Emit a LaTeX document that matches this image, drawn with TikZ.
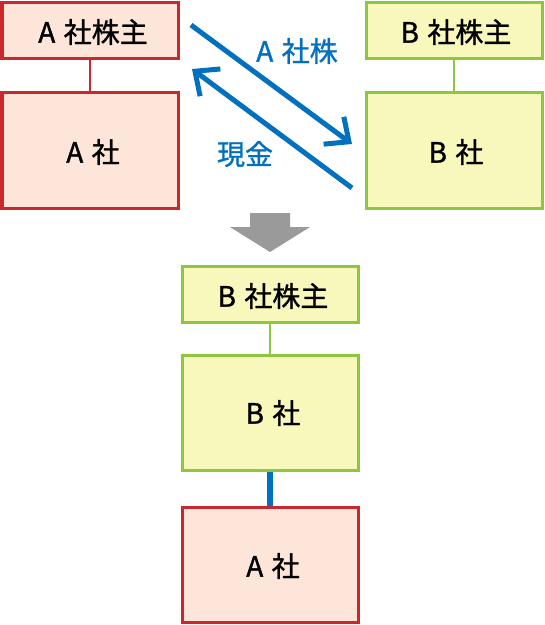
\documentclass[tikz,border=0pt]{standalone}
\usepackage{fontspec}
\setmainfont{Noto Sans CJK JP}[FakeBold=1.2]
\usetikzlibrary{arrows.meta}
\definecolor{redb}{HTML}{C8282E}
\definecolor{redf}{HTML}{FDE5DA}
\definecolor{grnb}{HTML}{8DC63F}
\definecolor{grnf}{HTML}{F8F8BC}
\definecolor{blu}{HTML}{0070BF}
\definecolor{gry}{HTML}{9A9A9A}
\newcommand{\gapsp}{\hspace{0.3em}}
\tikzset{
  abox/.style={draw=redb, fill=redf, line width=3pt},
  bbox/.style={draw=grnb, fill=grnf, line width=3pt},
  lbl/.style={font=\fontsize{28}{28}\selectfont, text=black},
  flow/.style={draw=blu, line width=5pt, -{Straight Barb[length=19pt,width=34pt]}},
  flowlbl/.style={font=\fontsize{28}{28}\selectfont, text=blu},
}
\begin{document}
\begin{tikzpicture}[x=1pt,y=-1pt]
\useasboundingbox (0,0) rectangle (545,625);
% top left
\draw[abox] (2,2) rectangle (178,58);
\node[lbl] (ash) at (93,32) {A\gapsp 社株主};
\draw[abox] (2,92) rectangle (178,208);
\node[lbl] (aco) at (93,152) {A\gapsp 社};
\draw[redb, line width=2pt] (90,59.5) -- (90,90.5);
% top right
\draw[bbox] (366,2) rectangle (542,58);
\node[lbl] (bsh) at (456,32) {B\gapsp 社株主};
\draw[bbox] (366,92) rectangle (542,208);
\node[lbl] (bco) at (456,152) {B\gapsp 社};
\draw[grnb, line width=2pt] (454,59.5) -- (454,90.5);
% arrows
\coordinate (s1) at (191,25);
\coordinate (e1) at (352,144);
\coordinate (s2) at (352,188);
\coordinate (e2) at (192,69);
\draw[flow] (s1) -- (e1);
\draw[flow] (s2) -- (e2);
\node[flowlbl] (lab1) at (297,51) {A\gapsp 社株};
\node[flowlbl] (lab2) at (245,154) {現金};
% gray arrow
\fill[gry] (250,213) -- (290,213) -- (290,227) -- (310,227) -- (270,252) -- (230,227) -- (250,227) -- cycle;
% bottom
\draw[bbox] (182,266) rectangle (358,322);
\node[lbl] (bsh2) at (273,296) {B\gapsp 社株主};
\draw[bbox] (182,355) rectangle (358,470);
\node[lbl] (bco2) at (273,413) {B\gapsp 社};
\draw[grnb, line width=2pt] (270,323.5) -- (270,353.5);
\draw[abox] (182,507) rectangle (358,622);
\node[lbl] (aco2) at (273,566) {A\gapsp 社};
\draw[blu, line width=6pt] (270,471.5) -- (270,505.5);
\end{tikzpicture}
\end{document}
